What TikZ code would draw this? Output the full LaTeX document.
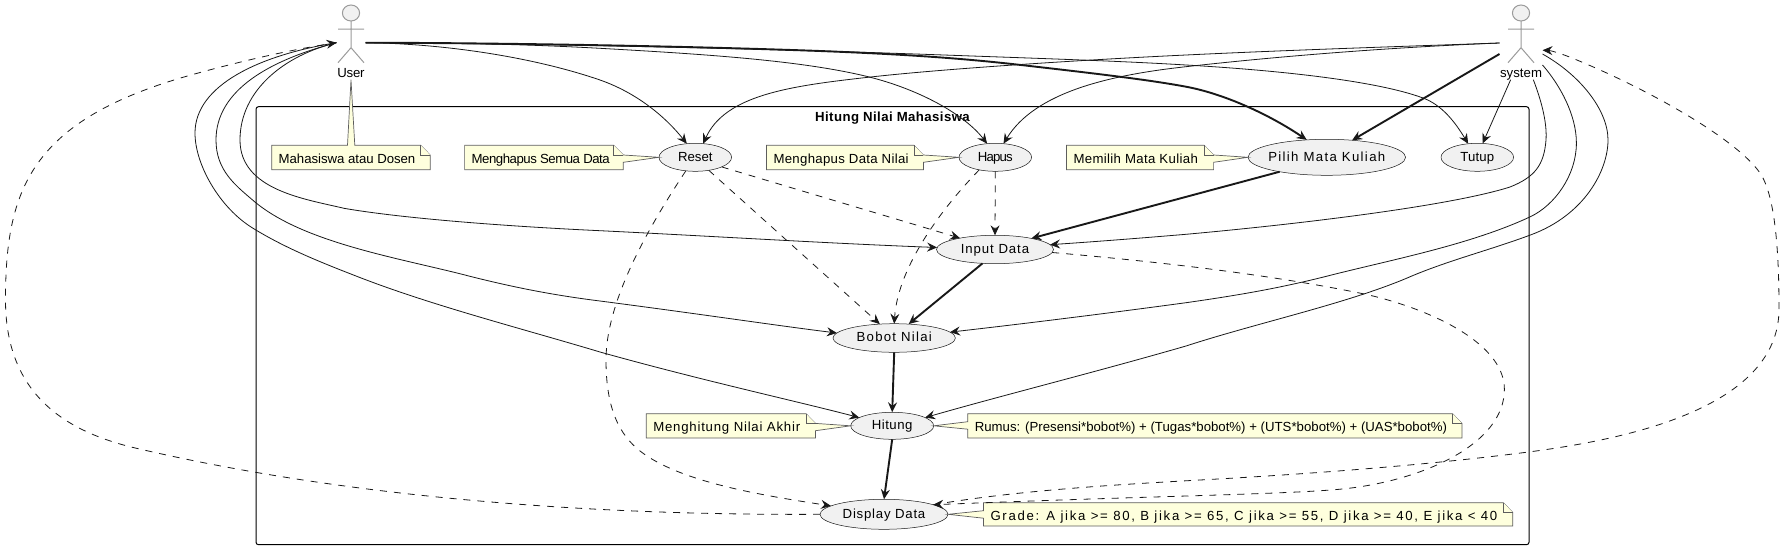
\documentclass[tikz,border=0pt]{standalone}
\usepackage{fontspec}
\setmainfont{Liberation Sans}
\usetikzlibrary{arrows.meta,shapes.geometric}
\ExplSyntaxOn
\cs_new:Npn \mycount #1 {\str_count_ignore_spaces:n {#1}}
\ExplSyntaxOff
\newsavebox\fitbox
\newcommand\fit[2]{\sbox\fitbox{#2}\edef\fitn{\mycount{#2}}\edef\fitw{\the\wd\fitbox}%
  \pgfmathsetmacro\fitls{(#1-\fitw)/(\fitn*13.2)*100}%
  \edef\fitdo{\noexpand\addfontfeature{LetterSpace=\fitls}}%
  {\fitdo #2}}
\newcommand\ctrbox[1]{\makebox[0pt][c]{#1}}
\definecolor{ucfill}{HTML}{F1F1F1}
\definecolor{notefill}{HTML}{FEFFDD}
\definecolor{ink}{HTML}{181818}
\definecolor{actorline}{HTML}{9A9A9A}
\tikzset{
  txt/.style={font=\fontsize{13.2}{15}\selectfont,text=black,inner sep=0pt,outer sep=0pt},
  ucase/.style={txt,shape=ellipse,draw=ink,line width=0.5pt,fill=ucfill,text height=9.5pt,text depth=2pt},
  notebody/.style={draw=ink!70,line width=0.7pt,fill=notefill,line join=miter},
  notetext/.style={txt,anchor=base west},
  actorstroke/.style={draw=actorline,line width=1pt},
  actorlabel/.style={txt,text height=9.5pt,text depth=2pt},
  anchorbox/.style={inner sep=0pt,outer sep=0pt,shape=rectangle},
  boundary/.style={draw=black,line width=1pt,rounded corners=2.5pt,inner sep=0pt,outer sep=0pt,shape=rectangle},
  tipped/.style={-{Stealth[length=10pt,width=9pt,inset=3.5pt]},draw=ink},
  conn/.style={tipped,line width=0.8pt},
  strong/.style={tipped,line width=1.9pt},
  dep/.style={tipped,line width=0.8pt,dash pattern=on 7pt off 7pt},
}
% name, x1, y1, x2, y2, apex, width, text : pointer on the right edge
\newcommand\noteR[8]{%
  \path[notebody] (#2,#3) -- ({#4-9.5},#3) -- (#4,{#3+9.7}) -- (#6) -- (#4,{#3+17}) -- (#4,#5) -- (#2,#5) -- cycle;
  \path[notebody] ({#4-9.5},#3) -- ({#4-9.5},{#3+9.7}) -- (#4,{#3+9.7});
  \node[notetext] (#1) at ({#2+7},{#3+18}) {\fit{#7}{#8}};}
% pointer on the left edge
\newcommand\noteL[8]{%
  \path[notebody] (#2,#3) -- ({#4-9.5},#3) -- (#4,{#3+9.7}) -- (#4,#5) -- (#2,#5) -- (#2,{#3+15.5}) -- (#6) -- (#2,{#3+8}) -- cycle;
  \path[notebody] ({#4-9.5},#3) -- ({#4-9.5},{#3+9.7}) -- (#4,{#3+9.7});
  \node[notetext] (#1) at ({#2+7},{#3+18}) {\fit{#7}{#8}};}
\newcommand\actorfig[1]{%
  \path[actorstroke,fill=ucfill] (#1,13) ellipse [x radius=8.6,y radius=8];
  \path[actorstroke] (#1,21) -- (#1,47.7) (#1,47.7) -- ({#1-13},62.7) (#1,47.7) -- ({#1+13},62.7) ({#1-13},29) -- ({#1+13},29);}
\begin{document}
\begin{tikzpicture}[x=1pt,y=-1pt]
\useasboundingbox (0,0) rectangle (1786,552);
\node[boundary,minimum width=1273pt,minimum height=438pt] (bound) at (892.5,325.7) {};
\node[txt,font=\fontsize{13.2}{15}\selectfont\bfseries,text height=9.5pt,text depth=2pt] (title) at (892.5,117.5) {\fit{155}{Hitung Nilai Mahasiswa}};

% actors
\actorfig{351}
\actorfig{1521}
\node[anchorbox,minimum width=29pt,minimum height=0pt] (user) at (351,42.7) {};
\node[anchorbox,minimum width=43pt,minimum height=22pt] (sys) at (1521,54) {};
\node[actorlabel] (userlbl) at (351,74) {\fit{26.8}{User}};
\node[actorlabel] (syslbl) at (1521,74) {\fit{42}{system}};

% use cases
\node[ucase,minimum width=72.6pt,minimum height=28pt] (reset) at (695.3,157.3) {\ctrbox{\fit{34.4}{Reset}}};
\node[ucase,minimum width=72.6pt,minimum height=28pt] (hapus) at (995.3,157.3) {\ctrbox{\fit{34}{Hapus}}};
\node[ucase,minimum width=157.6pt,minimum height=36pt] (pilih) at (1326.8,157.3) {\ctrbox{\fit{118.3}{Pilih Mata Kuliah}}};
\node[ucase,minimum width=72.6pt,minimum height=28pt] (tutup) at (1477.3,157.3) {\ctrbox{\fit{34}{Tutup}}};
\node[ucase,minimum width=117pt,minimum height=28.4pt] (input) at (995,249.5) {\ctrbox{\fit{69.3}{Input Data}}};
\node[ucase,minimum width=122.4pt,minimum height=28.6pt] (bobot) at (894.2,338) {\ctrbox{\fit{76.5}{Bobot Nilai}}};
\node[ucase,minimum width=83pt,minimum height=27pt] (hitung) at (892.2,425.8) {\ctrbox{\fit{41}{Hitung}}};
\node[ucase,minimum width=128pt,minimum height=30pt] (display) at (884,514.3) {\ctrbox{\fit{83.4}{Display Data}}};

% notes
\path[notebody] (271.7,145.3) -- (347.5,145.3) -- (userlbl.south) -- (354.8,145.3) -- (420.7,145.3) -- (430.2,155) -- (430.2,169.7) -- (271.7,169.7) -- cycle;
\path[notebody] (420.7,145.3) -- (420.7,155) -- (430.2,155);
\node[notetext] (nuser) at (278.7,163.3) {\fit{136.6}{Mahasiswa atau Dosen}};
\noteR{nreset}{464.6}{145.3}{623.3}{169.7}{reset.west}{137.7}{Menghapus Semua Data}
\noteR{nhapus}{766.5}{145.3}{923.4}{169.7}{hapus.west}{135.5}{Menghapus Data Nilai}
\noteR{npilih}{1066.5}{145.3}{1213.6}{169.7}{pilih.west}{124.8}{Memilih Mata Kuliah}
\noteR{nhitung}{646.3}{413.7}{815.5}{438}{hitung.west}{147.7}{Menghitung Nilai Akhir}
\noteL{nrumus}{967.8}{413.7}{1462}{438}{hitung.east}{472.3}{Rumus: (Presensi*bobot\%) + (Tugas*bobot\%) + (UTS*bobot\%) + (UAS*bobot\%)}
\noteL{ngrade}{983.5}{502.7}{1512.8}{526}{display.east}{508}{Grade: A jika >= 80, B jika >= 65, C jika >= 55, D jika >= 40, E jika < 40}

% from User
\draw[conn] (user.east) .. controls (440,43.5) and (530,56) .. (600,80) .. controls (640,94) and (668,120) .. (reset.122);
\draw[conn] (user.east) .. controls (470,43) and (530,44.5) .. (600,48.3) .. controls (700,54) and (800,60) .. (868,76.7) .. controls (920,89.5) and (965,115) .. (hapus.121);
\draw[conn] (user.east) .. controls (500,43) and (750,48) .. (944,55) .. controls (1044,58.6) and (1120,61) .. (1186,65) .. controls (1290,71) and (1380,82) .. (1423,98) .. controls (1442,105) and (1455,122) .. (tutup.124);
\draw[strong] (user.east) .. controls (500,43) and (680,46) .. (812,50.7) .. controls (900,54) and (960,58) .. (1021,65) .. controls (1100,74) and (1150,80) .. (1186,86.7) .. controls (1225,94) and (1270,115) .. (pilih.139.6);
\draw[conn] (user.west) .. controls (285,55) and (240,90) .. (240,140) .. controls (240,190) and (305,199) .. (344,208.3) .. controls (400,218) and (500,226) .. (600,230.7) .. controls (700,235.5) and (830,243.5) .. (input.178);
\draw[conn] (user.west) .. controls (270,60) and (216,90) .. (216,140) .. controls (216,170) and (235,185) .. (252.6,200) .. controls (302,243) and (400,258) .. (468.8,276) .. controls (520,289) and (560,296) .. (600,301) .. controls (700,314) and (780,326) .. (bobot.175);
\draw[conn] (user.west) .. controls (260,55) and (195,85) .. (195,133) .. controls (195,165) and (220,208) .. (252.6,228) .. controls (285,248) and (320,262) .. (356,276) .. controls (430,305) and (520,328) .. (600,352) .. controls (700,380) and (800,402) .. (hitung.166);
\draw[dep] (display.west) .. controls (680,515) and (400,510) .. (134,447.7) .. controls (60,430) and (5.5,390) .. (5.5,300) .. controls (5.5,190) and (30,120) .. (191,75) .. controls (240,61.3) and (290,50) .. (user.west);

% from system
\draw[conn] (sys.north west) .. controls (1400,46.5) and (1290,50) .. (1186,55) .. controls (1100,59) and (950,68) .. (868,77.3) .. controls (790,86) and (725,95) .. (reset.60);
\draw[conn] (sys.north west) .. controls (1400,47) and (1290,55) .. (1186,66.7) .. controls (1110,75) and (1035,92) .. (hapus.59);
\draw[strong] (sys.west) -- (pilih.34);
\draw[conn] (syslbl.209) -- (tutup.69);
\draw[conn] (syslbl.335) .. controls (1543,105) and (1547,125) .. (1546,140) .. controls (1544,165) and (1535,177) .. (1510,187) .. controls (1450,206) and (1300,224) .. (1186,234.3) .. controls (1130,239) and (1090,242) .. (input.5);
\draw[conn] (sys.south east) .. controls (1560,85) and (1576.4,115) .. (1576.4,143) .. controls (1576.4,175) and (1555,205) .. (1530.4,216.7) .. controls (1470,245) and (1390,260) .. (1327.6,276) .. controls (1280,288) and (1240,295) .. (1186,302.7) .. controls (1110,313) and (1030,323) .. (bobot.6.5);
\draw[conn] (sys.east) .. controls (1580,75) and (1608,110) .. (1608,140) .. controls (1608,170) and (1585,215) .. (1530.4,235) .. controls (1490,250) and (1450,260) .. (1411.8,276) .. controls (1350,303) and (1260,322) .. (1186,346) .. controls (1096,372) and (1000,396) .. (hitung.14.5);
\draw[dep] (display.11.5) .. controls (1020,490) and (1120,484.5) .. (1200,480) .. controls (1300,474.5) and (1420,466) .. (1528.5,452) .. controls (1620,440) and (1779,410) .. (1779,309) .. controls (1779,250) and (1775,195) .. (1760,173) .. controls (1735,137) and (1640,85) .. (1568.7,56.7) .. controls (1558,52.5) and (1550,50.5) .. (sys.10);

% between use cases
\draw[strong] (pilih.-163) -- (input.17);
\draw[strong] (input.-132) -- (bobot.44);
\draw[strong] (bobot.south) -- (hitung.north);
\draw[strong] (hitung.south) -- (display.north);
\draw[dep] (reset.-20) -- (input.162);
\draw[dep] (reset.-44) -- (bobot.136);
\draw[dep] (reset.-125) .. controls (650,225) and (606,300) .. (606,360) .. controls (606,410) and (620,435) .. (640,451) .. controls (680,482) and (760,495) .. (display.171);
\draw[dep] (hapus.south) -- (input.north);
\draw[dep] (hapus.-142) .. controls (945,205) and (898,265) .. (bobot.north);
\draw[dep] (input.-3) .. controls (1150,261) and (1260,273) .. (1358,292.7) .. controls (1420,305) and (1504.4,340) .. (1504.4,389.3) .. controls (1504.4,445) and (1420,482) .. (1339,489.3) .. controls (1280,494.6) and (1150,496) .. (display.11.5);
\end{tikzpicture}
\end{document}
